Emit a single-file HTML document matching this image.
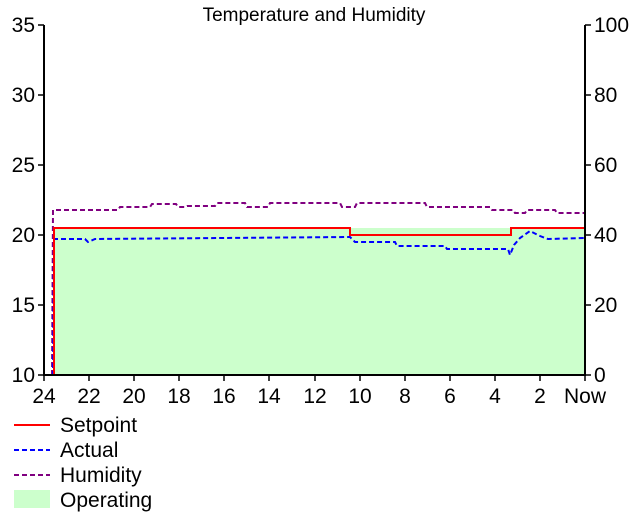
<!DOCTYPE html>
<html><head><meta charset="utf-8"><style>
html,body{margin:0;padding:0;background:#fff;}
svg{display:block;font-family:"Liberation Sans",Arial,sans-serif;}
</style></head><body>
<svg width="631" height="512" viewBox="0 0 631 512">
<rect width="631" height="512" fill="#fff"/>
<text x="314" y="21" font-size="19" text-anchor="middle">Temperature and Humidity</text>
<rect x="54" y="228" width="531" height="147" fill="#ccffcc"/>
<polyline fill="none" stroke="#800080" stroke-width="2" stroke-dasharray="5,3" points="44,375 52,375 53,210 118,210 120,207 150,207 152,204 176,204 178,207 185,207 187,206 215,206 217,203 245,203 247,207 268,207 270,203 340,203 342,207 355,207 357,203 425,203 427,207 490,207 492,210 513,210 515,213 525,213 527,210 555,210 557,213 585,213"/>
<polyline fill="none" stroke="#0000ff" stroke-width="2" stroke-dasharray="5,3" points="44,375 53,375 54,239 85,239 88,242 95,239 350,237 355,242 395,242 397,246 445,246 447,249 508,249 510,255 514,245 520,238 530,231 540,236 548,239 585,238"/>
<polyline fill="none" stroke="#ff0000" stroke-width="2" points="44,375 54,375 54,228 350,228 350,235 511,235 511,228 585,228"/>
<g stroke="#000" stroke-width="2" fill="none">
<line x1="44" y1="25" x2="44" y2="376"/>
<line x1="585" y1="25" x2="585" y2="376"/>
<line x1="43" y1="375" x2="586" y2="375"/>
</g>
<g stroke="#000" stroke-width="1.5">
<line x1="38" y1="25" x2="44" y2="25"/><line x1="38" y1="95" x2="44" y2="95"/><line x1="38" y1="165" x2="44" y2="165"/><line x1="38" y1="235" x2="44" y2="235"/><line x1="38" y1="305" x2="44" y2="305"/><line x1="38" y1="375" x2="44" y2="375"/>
<line x1="585" y1="25" x2="591" y2="25"/><line x1="585" y1="95" x2="591" y2="95"/><line x1="585" y1="165" x2="591" y2="165"/><line x1="585" y1="235" x2="591" y2="235"/><line x1="585" y1="305" x2="591" y2="305"/><line x1="585" y1="375" x2="591" y2="375"/>
<line x1="44" y1="375" x2="44" y2="381"/><line x1="89" y1="375" x2="89" y2="381"/><line x1="134" y1="375" x2="134" y2="381"/><line x1="179" y1="375" x2="179" y2="381"/><line x1="224" y1="375" x2="224" y2="381"/><line x1="269" y1="375" x2="269" y2="381"/><line x1="315" y1="375" x2="315" y2="381"/><line x1="360" y1="375" x2="360" y2="381"/><line x1="405" y1="375" x2="405" y2="381"/><line x1="450" y1="375" x2="450" y2="381"/><line x1="495" y1="375" x2="495" y2="381"/><line x1="540" y1="375" x2="540" y2="381"/><line x1="585" y1="375" x2="585" y2="381"/>
</g>
<g font-size="21" text-anchor="end">
<text x="35" y="32">35</text><text x="35" y="102">30</text><text x="35" y="172">25</text><text x="35" y="242">20</text><text x="35" y="312">15</text><text x="35" y="382">10</text>
</g>
<g font-size="21" text-anchor="start">
<text x="594" y="32">100</text><text x="594" y="102">80</text><text x="594" y="172">60</text><text x="594" y="242">40</text><text x="594" y="312">20</text><text x="594" y="382">0</text>
</g>
<g font-size="21" text-anchor="middle">
<text x="44" y="403">24</text><text x="89" y="403">22</text><text x="134" y="403">20</text><text x="179" y="403">18</text><text x="224" y="403">16</text><text x="269" y="403">14</text><text x="315" y="403">12</text><text x="360" y="403">10</text><text x="405" y="403">8</text><text x="450" y="403">6</text><text x="495" y="403">4</text><text x="540" y="403">2</text><text x="585" y="403">Now</text>
</g>
<line x1="14" y1="425" x2="50" y2="425" stroke="#ff0000" stroke-width="2"/>
<line x1="14" y1="450" x2="50" y2="450" stroke="#0000ff" stroke-width="2" stroke-dasharray="5,3"/>
<line x1="14" y1="475" x2="50" y2="475" stroke="#800080" stroke-width="2" stroke-dasharray="5,3"/>
<rect x="14" y="490" width="36" height="18" fill="#ccffcc"/>
<g font-size="21">
<text x="60" y="432">Setpoint</text><text x="60" y="457">Actual</text><text x="60" y="482">Humidity</text><text x="60" y="507">Operating</text>
</g>
</svg>
</body></html>
